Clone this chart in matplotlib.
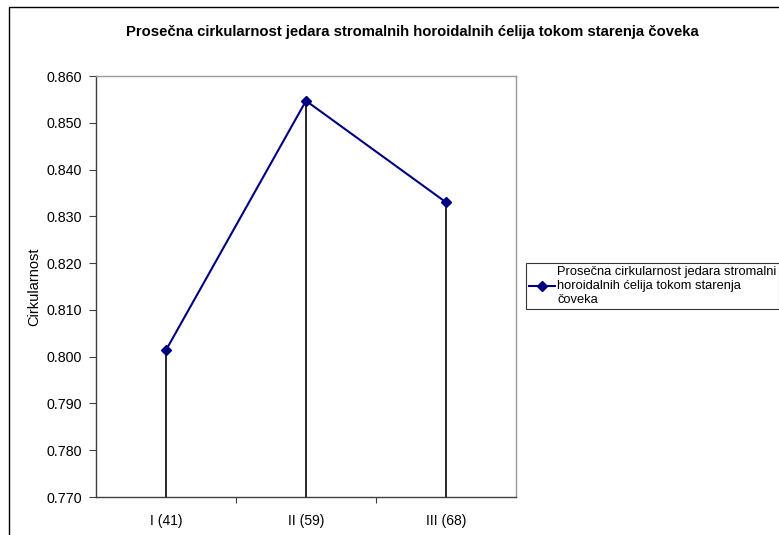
import matplotlib
matplotlib.use("Agg")
import matplotlib.pyplot as plt
import matplotlib.patches as patches
import numpy as np

# ── Data ──────────────────────────────────────────────────────────────────────
categories = ["I (41)", "II (59)", "III (68)"]
circularity = [0.8014, 0.8547, 0.8330]
y_ticks = [0.770, 0.780, 0.790, 0.800, 0.810, 0.820, 0.830, 0.840, 0.850, 0.860]

title = "Prosečna cirkularnost jedara stromalnih horoidalnih ćelija tokom starenja čoveka"
series_label = "Prosečna cirkularnost jedara stromalni\nhoroidalnih ćelija tokom starenja\nčoveka"

plt.rcParams["font.family"] = ["Liberation Sans", "DejaVu Sans"]

W, H = 779, 535
fig = plt.figure(figsize=(W / 100, H / 100), dpi=100)
ax = fig.add_axes([96 / W, 1 - 497 / H, 420 / W, (497 - 76) / H])

x = np.arange(len(categories))
ax.vlines(x, y_ticks[0], circularity, color="black", linewidth=1.2, zorder=2)
ax.plot(x, circularity, color="#000080", linewidth=1.5, marker="D",
        markersize=5, label=series_label, zorder=3)

ax.set_xlim(-0.5, len(categories) - 0.5)
ax.set_ylim(y_ticks[0], y_ticks[-1])
ax.set_yticks(y_ticks)
ax.set_yticklabels([f"{v:.3f}" for v in y_ticks], fontsize=10.3)
ax.set_xticks(x)
ax.set_xticklabels(categories, fontsize=10)
ax.tick_params(axis="x", length=0, pad=12)
ax.tick_params(axis="y", length=5, width=0.8, color="#404040", pad=5)
# category separators on the x axis
ax.set_xticks(np.arange(1, len(categories)) - 0.5, minor=True)
ax.tick_params(axis="x", which="minor", length=4, width=0.8, color="#404040")

for side in ("top", "right"):
    ax.spines[side].set_color("#9a9a9a")
    ax.spines[side].set_linewidth(1.0)
for side in ("left", "bottom"):
    ax.spines[side].set_color("#404040")
    ax.spines[side].set_linewidth(1.0)

ax.set_ylabel("Cirkularnost", fontsize=10.5, labelpad=4)
fig.text(412 / W, 1 - 32 / H, title, ha="center", va="center",
         fontsize=10.7, fontweight="bold")

leg = fig.legend(loc="upper left", bbox_to_anchor=(526 / W, 1 - 263 / H),
                 fontsize=9.3, frameon=True, fancybox=False, handlelength=2.0,
                 borderpad=0.25, handletextpad=0.15, borderaxespad=0,
                 labelspacing=0.2)
leg.get_frame().set_edgecolor("black")
leg.get_frame().set_linewidth(0.8)

# outer chart-area border (extends past the image on the right and bottom)
fig.patches.append(patches.Rectangle((9 / W, -0.1), 1.2, 1 - 7 / H + 0.1,
                                     transform=fig.transFigure, fill=False,
                                     edgecolor="black", linewidth=1.0))

fig.savefig("out.png", dpi=100)
